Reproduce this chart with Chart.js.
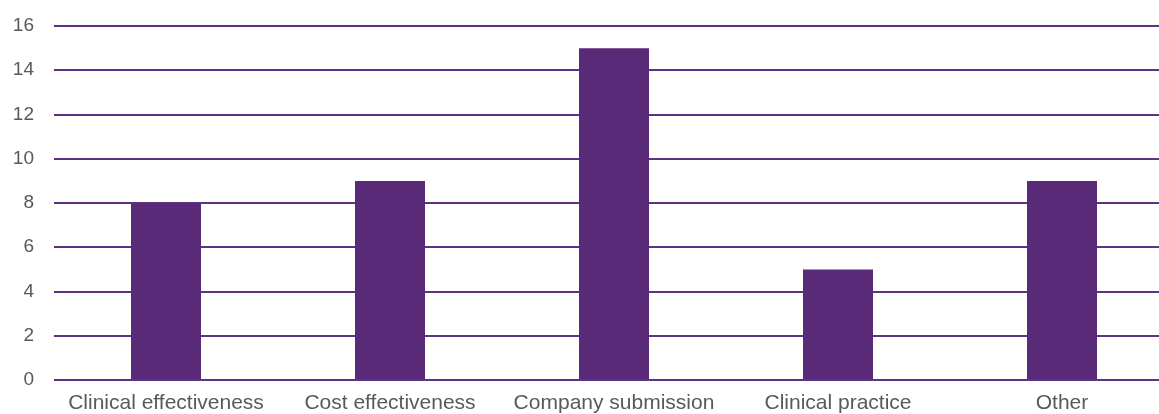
<!DOCTYPE html>
<html>
<head>
<meta charset="utf-8">
<script src="https://cdn.jsdelivr.net/npm/chart.js@4.4.0/dist/chart.umd.min.js"></script>
<style>
  html, body { margin: 0; padding: 0; background: #fff; overflow: hidden; }
  #wrap { width: 1159px; height: 414px; overflow: hidden; }
</style>
</head>
<body>
<div id="wrap"><canvas id="chart" width="1176" height="414"></canvas></div>
<script>
const categories = ['Clinical effectiveness', 'Cost effectiveness', 'Company submission', 'Clinical practice', 'Other'];
const counts = [8, 9, 15, 5, 9];
const yTicks = [0, 2, 4, 6, 8, 10, 12, 14, 16];

const purple = '#582a78';
const gridPurple = '#5e3184';
const labelGrey = '#595959';

// the plot runs a little past the right edge of the picture, so the canvas is wider and clipped
new Chart(document.getElementById('chart').getContext('2d'), {
  type: 'bar',
  data: {
    labels: categories,
    datasets: [{
      data: counts,
      backgroundColor: purple,
      categoryPercentage: 1,
      barPercentage: 0.3125
    }]
  },
  options: {
    responsive: false,
    animation: false,
    layout: { padding: { top: 26, right: 2, bottom: 0, left: 1 } },
    plugins: {
      legend: { display: false },
      tooltip: { enabled: false }
    },
    scales: {
      x: {
        grid: { display: false, drawTicks: false },
        border: { display: false },
        ticks: {
          color: labelGrey,
          padding: 11,
          maxRotation: 0,
          autoSkip: false,
          font: { family: 'Liberation Sans', size: 21 }
        },
        afterFit: function (scale) { scale.height = 34; }
      },
      y: {
        min: 0,
        max: 16,
        afterBuildTicks: function (scale) {
          scale.ticks = yTicks.map(v => ({ value: v }));
        },
        grid: { color: gridPurple, lineWidth: 2, drawTicks: false },
        border: { display: false },
        ticks: {
          color: labelGrey,
          padding: 20,
          font: { family: 'Liberation Sans', size: 19 }
        },
        afterFit: function (scale) {
          scale.width = 53;
          // tick padding would otherwise push the top of the plot down
          scale.paddingTop = 0;
          scale.paddingBottom = 0;
        }
      }
    }
  }
});
</script>
</body>
</html>
